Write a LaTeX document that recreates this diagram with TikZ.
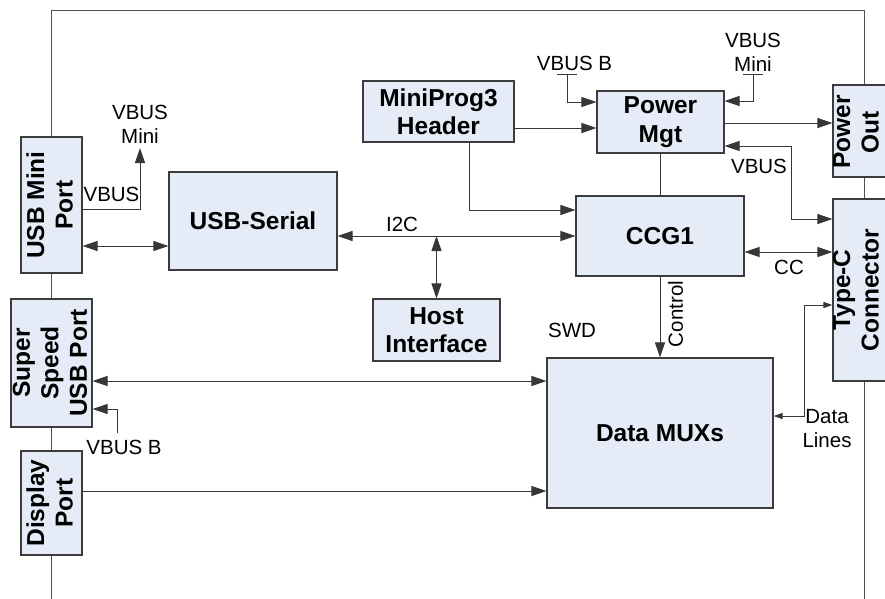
\documentclass[tikz,border=0pt]{standalone}
\usepackage{fontspec}
\setmainfont{Liberation Sans}
\usetikzlibrary{arrows.meta}
\definecolor{boxfill}{RGB}{230,236,247}
\definecolor{boxline}{RGB}{60,60,60}
\definecolor{wirec}{RGB}{55,55,55}
\definecolor{framec}{RGB}{80,80,80}
\begin{document}
\begin{tikzpicture}[x=1pt,y=-1pt,
  box/.style={draw=boxline, fill=boxfill, line width=1.1pt, inner sep=0pt},
  btext/.style={font=\bfseries\fontsize{24.5}{28.5}\selectfont, align=center, inner sep=0pt},
  lbl/.style={font=\fontsize{20.5}{24}\selectfont, align=center, inner sep=0pt},
  wire/.style={draw=wirec, line width=1pt},
  arr/.style={wire, -{Triangle[length=15pt,width=10pt]}},
  bi/.style={wire, {Triangle[length=15pt,width=10pt]}-{Triangle[length=15pt,width=10pt]}},
  bismall/.style={wire, {Triangle[length=9pt,width=6pt]}-{Triangle[length=9pt,width=6pt]}},
]
\useasboundingbox (0,0) rectangle (885,598);
% outer frame
\draw[draw=framec, line width=1pt] (51,605) -- (51,10) -- (864,10) -- (864,605);

% boxes
\node[box, minimum width=61pt, minimum height=136pt] (usbmini) at (51.5,205) {};
\node[btext, rotate=90] (usbminit) at (49.5,205) {USB Mini\\Port};
\node[box, minimum width=81pt, minimum height=128pt] (superspeed) at (51.5,363) {};
\node[btext, rotate=90] (superspeedt) at (50,363) {Super\\Speed\\USB Port};
\node[box, minimum width=61pt, minimum height=104pt] (display) at (51.5,503) {};
\node[btext, rotate=90] (displayt) at (49.5,503) {Display\\Port};
\node[box, btext, minimum width=168pt, minimum height=98pt] (usbserial) at (253,221) {USB-Serial};
\node[box, btext, minimum width=151pt, minimum height=61pt] (miniprog) at (438.5,111.5) {MiniProg3\\Header};
\node[box, btext, minimum width=127pt, minimum height=62pt] (powermgt) at (660.5,122) {Power\\Mgt};
\node[box, btext, minimum width=168pt, minimum height=80pt] (ccg) at (660,236) {CCG1};
\node[box, btext, minimum width=127pt, minimum height=62pt] (host) at (436.5,330) {Host\\Interface};
\node[box, btext, minimum width=226pt, minimum height=150pt] (mux) at (660,433) {Data MUXs};
\node[box, minimum width=57pt, minimum height=92pt] (powerout) at (861.5,131) {};
\node[btext, rotate=90] (powerouttext) at (856,132) {Power\\Out};
\node[box, minimum width=57pt, minimum height=182pt] (typec) at (861.5,290) {};
\node[btext, rotate=90] (typectext) at (856,290) {Type-C\\Connector};

% labels
\node[lbl] (vbmLl) at (140,124.5) {VBUS\\Mini};
\node[lbl] (vbusL) at (111.5,194.5) {VBUS};
\node[lbl] (i2c) at (402,224) {I2C};
\node[lbl] (vbBT) at (574.5,63) {VBUS B};
\node[lbl] (vbMR) at (753,52) {VBUS\\Mini};
\node[lbl] (vbusR) at (759,166) {VBUS};
\node[lbl] (cc) at (789,267) {CC};
\node[lbl, rotate=90] (control) at (675.5,314) {Control};
\node[lbl] (swd) at (572,330) {SWD};
\node[lbl] (vbBL) at (124,447) {VBUS B};
\node[lbl] (datalines) at (827,429) {Data\\Lines};

% connectors
\draw[bi] (usbmini.east |- 0,246) -- (usbserial.west |- 0,246);
\coordinate (vbmLtip) at (140,148);
\draw[arr] (usbmini.east |- 0,209) -| (vbmLtip);
\draw[bi] (usbserial.east |- 0,236) -- (ccg.west |- 0,236);
\draw[bi] (host.north) -- (host.north |- 0,236);
\draw[arr] (miniprog.east |- 0,128) -- (powermgt.west |- 0,128);
\draw[arr] (469,0 |- miniprog.south) |- (ccg.west |- 0,210);
\coordinate (vbBtop) at (567,74);
\draw[wire] (557,74) -- (577,74);
\draw[arr] (vbBtop) |- (powermgt.west |- 0,102);
\coordinate (vbMRtop) at (753,74);
\draw[wire] (743,74) -- (763,74);
\draw[arr] (vbMRtop) |- (powermgt.east |- 0,101);
\draw[arr] (powermgt.east |- 0,123) -- (powerout.west |- 0,123);
\draw[bi] (powermgt.east |- 0,146) -| (791,180) |- (typec.west |- 0,219);
\draw[wire] (powermgt.south) -- (powermgt.south |- ccg.north);
\draw[bi] (ccg.east |- 0,252) -- (typec.west |- 0,252);
\draw[arr] (ccg.south) -- (mux.north);
\draw[bi] (superspeed.east |- 0,381) -- (mux.west |- 0,381);
\coordinate (vbBLtop) at (117,433);
\draw[arr] (vbBLtop) |- (superspeed.east |- 0,409);
\draw[arr] (display.east |- 0,491) -- (mux.west |- 0,491);
\draw[bismall] (mux.east |- 0,416) -| (804,360) |- (typec.west |- 0,305);
\end{tikzpicture}
\end{document}
